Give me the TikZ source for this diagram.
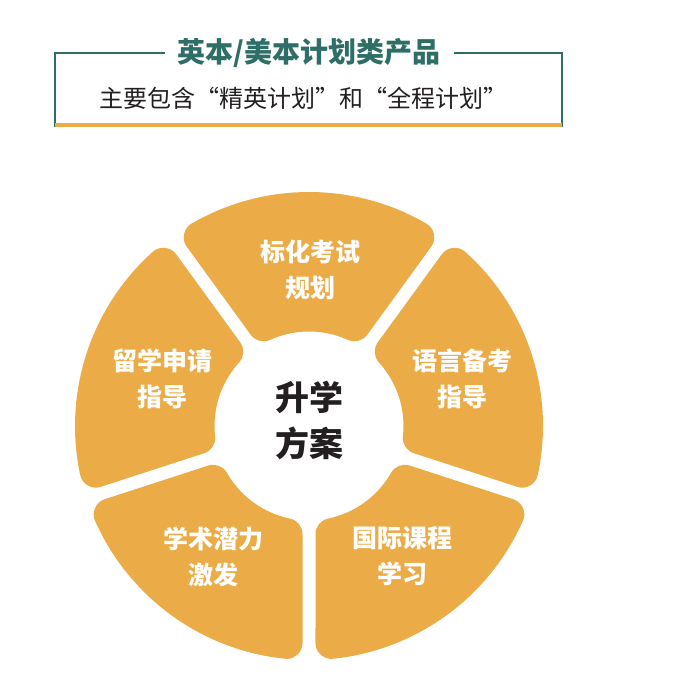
\documentclass[tikz,border=0pt]{standalone}
\usepackage{fontspec}
\setmainfont{Noto Sans CJK SC}
\newfontfamily\cjk{Noto Sans CJK SC}
\definecolor{segorange}{HTML}{EBAC48}
\definecolor{teal}{HTML}{2E6E67}
\definecolor{darktext}{HTML}{231F20}
\tikzset{
  seg/.style={fill=segorange, draw=segorange, line width=32pt, line join=round},
  segtext/.style={text=white, align=center, font=\cjk\bfseries\fontsize{25}{36}\selectfont},
  frameline/.style={draw=teal, line width=1.5pt},
}
\begin{document}
\begin{tikzpicture}[x=1pt,y=1pt]
\useasboundingbox (0,0) rectangle (684,675);
% header frame
\coordinate (tl) at (55,622);
\coordinate (tr) at (562,622);
\coordinate (bl) at (55,548);
\coordinate (br) at (562,548);
\coordinate (gl) at (165,622);
\coordinate (gr) at (454,622);
\draw[frameline] (gl) -- (tl) -- (bl);
\draw[frameline] (gr) -- (tr) -- (br);
\draw[draw=segorange, line width=4pt] (55,549.5) -- (562,549.5);
\node[text=teal, font=\cjk\bfseries\fontsize{28}{32}\selectfont] (title) at (309,622) {英本/美本计划类产品};
\node[text=darktext, font=\cjk\fontsize{24}{28}\selectfont] (sub) at (303,577) {主要包含“精英计划”和“全程计划”};
% wheel
\pgfmathsetmacro\Ro{234-16}
\pgfmathsetmacro\Ri{94.5+16}
\pgfmathsetmacro\dd{6.5+16}
\pgfmathsetmacro\ao{asin(\dd/\Ro)}
\pgfmathsetmacro\ai{asin(\dd/\Ri)}
\begin{scope}[shift={(309,249)}]
\foreach \a in {90,18,-54,-126,162}{
  \pgfmathsetmacro\sa{\a-36+\ao}
  \pgfmathsetmacro\ea{\a+36-\ao}
  \pgfmathsetmacro\si{\a+36-\ai}
  \pgfmathsetmacro\ei{\a-36+\ai}
  \filldraw[seg] (\sa:\Ro) arc[start angle=\sa, end angle=\ea, radius=\Ro]
     -- (\si:\Ri) arc[start angle=\si, end angle=\ei, radius=\Ri] -- cycle;
}
\end{scope}
\node[text=darktext, align=center, font=\cjk\bfseries\fontsize{34}{46}\selectfont] (center) at (309,255) {升学\\方案};
\node[segtext] (s1) at (310,405) {标化考试\\规划};
\node[segtext] (s2) at (462,296.5) {语言备考\\指导};
\node[segtext] (s3) at (162,296.5) {留学申请\\指导};
\node[segtext] (s4) at (213,118.5) {学术潜力\\激发};
\node[segtext] (s5) at (402,118.5) {国际课程\\学习};
\end{tikzpicture}
\end{document}
